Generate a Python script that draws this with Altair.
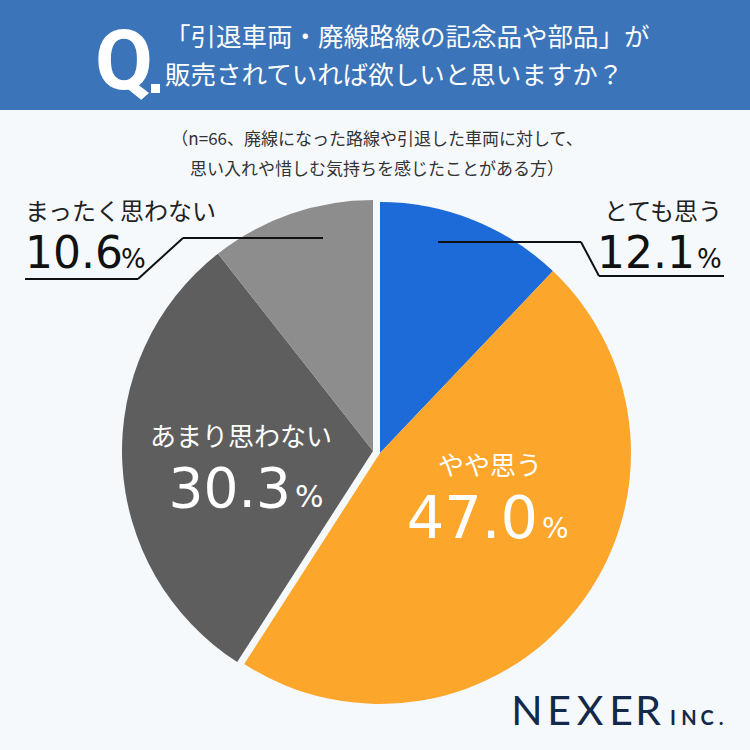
import altair as alt
import pandas as pd

# ---- data ----
categories = ["とても思う", "やや思う", "あまり思わない", "まったく思わない"]
values = [12.1, 47.0, 30.3, 10.6]
groups = ["right", "right", "left", "left"]
colors = ["#1c6bd8", "#fda62c", "#5e5e5e", "#8d8d8d"]
title_lines = ["「引退車両・廃線路線の記念品や部品」が", "販売されていれば欲しいと思いますか？"]
note_lines = ["（n=66、廃線になった路線や引退した車両に対して、", "思い入れや惜しむ気持ちを感じたことがある方）"]
brand_main = ["N", "E", "X", "E", "R"]
brand_sub = ["I", "N", "C", "."]

W = H = 750
JP = "Noto Sans CJK JP"
NUM = "DejaVu Sans"

df = pd.DataFrame({"cat": categories, "value": values, "group": groups})
df["end"] = df["value"].cumsum()
df["start"] = df["end"] - df["value"]
df["num"] = df["value"].map(lambda v: f"{v:.1f}")

one = pd.DataFrame({"k": [0]})

theta_scale = alt.Scale(domain=[0, 100], range=[0, 6.283185307179586])
color_scale = alt.Scale(domain=categories, range=colors)


def pie(group, cx, cy):
    return (
        alt.Chart(df)
        .transform_filter(alt.datum.group == group)
        .mark_arc(radius=251, x=cx, y=cy)
        .encode(
            theta=alt.Theta("start:Q", scale=theta_scale),
            theta2="end:Q",
            color=alt.Color("cat:N", scale=color_scale, legend=None),
        )
    )


def txt(s, x, y, size, color, align="left", baseline="middle", font=JP, weight="normal"):
    return alt.Chart(one).mark_text(
        text=s, align=align, baseline=baseline, font=font, fontSize=size,
        color=color, fontWeight=weight,
    ).encode(x=alt.value(x), y=alt.value(y))


def num(cat, x, y, size, color, align="right"):
    return (
        alt.Chart(df)
        .transform_filter(alt.datum.cat == cat)
        .mark_text(align=align, baseline="alphabetic", font=NUM, fontSize=size, color=color)
        .encode(text="num:N", x=alt.value(x), y=alt.value(y))
    )


def rect(x, x2, y, y2, color):
    return alt.Chart(one).mark_rect(color=color).encode(
        x=alt.value(x), x2=alt.value(x2), y=alt.value(y), y2=alt.value(y2)
    )


def seg(x, y, x2, y2):
    return alt.Chart(one).mark_rule(color="#111111", strokeWidth=2).encode(
        x=alt.value(x), y=alt.value(y), x2=alt.value(x2), y2=alt.value(y2)
    )


layers = [
    rect(0, W, 0, 110, "#3b74b8"),
    txt("Q", 95, 89, 84, "white", baseline="alphabetic", font="Roboto", weight="bold"),
    rect(151, 160, 84, 93, "white"),
    txt(title_lines[0], 165, 38, 25.5, "white"),
    txt(title_lines[1], 165, 76, 25.5, "white"),
    txt(note_lines[0], 377, 140, 17, "#333333", align="center"),
    txt(note_lines[1], 377, 170, 17, "#333333", align="center"),
    pie("right", 380, 453),
    pie("left", 373, 451),
    # leader lines
    seg(323, 238, 183, 238),
    seg(183, 238, 138, 279),
    seg(138, 279, 25, 279),
    seg(438, 242, 581, 242),
    seg(581, 242, 599, 276),
    seg(599, 276, 724, 276),
    # outside labels
    txt(categories[3], 25, 213, 24, "#222222"),
    num(categories[3], 25, 268, 44, "#111111", align="left"),
    txt("%", 121, 268, 26, "#111111", baseline="alphabetic", font=NUM),
    txt(categories[0], 722, 213, 24, "#222222", align="right"),
    num(categories[0], 695, 268, 44, "#111111"),
    txt("%", 697, 268, 26, "#111111", baseline="alphabetic", font=NUM),
    # inside labels
    txt(categories[2], 241, 438, 26, "white", align="center"),
    num(categories[2], 291, 507, 55, "white"),
    txt("%", 295, 507, 30, "white", baseline="alphabetic", font=NUM),
    txt(categories[1], 490, 467, 26, "white", align="center"),
    num(categories[1], 538, 538, 59, "white"),
    txt("%", 542, 538, 28, "white", baseline="alphabetic", font=NUM),
]

# brand logo, letter-spaced
main_x = [527, 559, 590, 621, 648]
for ch, cx in zip(brand_main, main_x):
    layers.append(txt(ch, cx, 725, 41, "#14284a", align="center", baseline="alphabetic", font="Lato"))
sub_x = [673, 689, 707, 721]
for ch, cx in zip(brand_sub, sub_x):
    layers.append(txt(ch, cx, 725, 20, "#14284a", align="center", baseline="alphabetic",
                      font="Lato", weight="bold"))

chart = (
    alt.layer(*layers)
    .properties(width=W, height=H, background="#f5f9fc", padding=0,
                autosize=alt.AutoSizeParams(type="none"))
    .configure_view(stroke=None)
)

chart.save("out.html", embed_options={"renderer": "svg", "actions": False})
